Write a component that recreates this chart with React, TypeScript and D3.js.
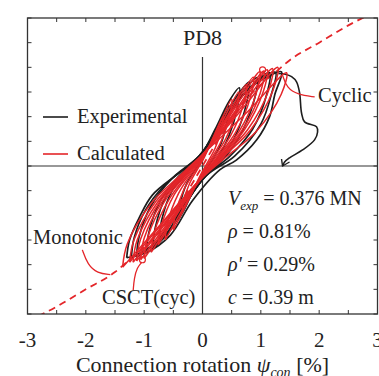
import React from "react";
import * as d3 from "d3";

type Pt = [number, number];

// monotonic CSCT prediction (dashed)
const monoRot = [-3.0, -2.5, -2.0, -1.5, -1.25, -1.0, -0.75, -0.5, -0.25, 0, 0.25, 0.5, 0.75, 1.0, 1.25, 1.5, 2.0, 2.5, 3.0];
const monoV = [-0.63, -0.57, -0.5, -0.43, -0.38, -0.33, -0.27, -0.19, -0.1, 0, 0.1, 0.19, 0.27, 0.33, 0.38, 0.43, 0.5, 0.57, 0.63];

// experimental hysteresis loops [rotation %, V MN]
const expLoops: Pt[][] = [
  [[-0.42, -0.22], [-0.39, -0.16], [-0.27, -0.07], [-0.12, -0.015], [0.02, 0.04], [0.18, 0.12], [0.34, 0.2], [0.45, 0.245], [0.42, 0.18], [0.3, 0.08], [0.14, 0.015], [-0.02, -0.04], [-0.18, -0.11], [-0.32, -0.18], [-0.42, -0.22]],
  [[-0.74, -0.3], [-0.7, -0.22], [-0.52, -0.1], [-0.28, -0.03], [-0.03, 0.04], [0.22, 0.15], [0.45, 0.26], [0.63, 0.317], [0.6, 0.24], [0.45, 0.12], [0.25, 0.03], [0.03, -0.04], [-0.25, -0.14], [-0.52, -0.245], [-0.74, -0.3]],
  [[-0.85, -0.33], [-0.81, -0.25], [-0.62, -0.12], [-0.35, -0.04], [-0.04, 0.04], [0.26, 0.155], [0.55, 0.27], [0.8, 0.34], [0.76, 0.26], [0.58, 0.13], [0.33, 0.035], [0.04, -0.04], [-0.28, -0.15], [-0.58, -0.27], [-0.85, -0.33]],
  [[-0.96, -0.354], [-0.92, -0.27], [-0.72, -0.14], [-0.42, -0.045], [-0.05, 0.04], [0.3, 0.16], [0.65, 0.29], [0.94, 0.358], [0.9, 0.28], [0.68, 0.14], [0.4, 0.04], [0.05, -0.04], [-0.32, -0.16], [-0.66, -0.29], [-0.96, -0.354]],
  [[-1.13, -0.37], [-1.09, -0.29], [-0.88, -0.16], [-0.52, -0.05], [-0.06, 0.04], [0.33, 0.17], [0.78, 0.31], [1.15, 0.378], [1.1, 0.29], [0.86, 0.15], [0.47, 0.04], [0.06, -0.04], [-0.36, -0.17], [-0.8, -0.31], [-1.13, -0.37]],
  [[-1.22, -0.37], [-1.17, -0.29], [-0.98, -0.18], [-0.66, -0.08], [-0.06, 0.04], [0.34, 0.175], [0.8, 0.315], [1.25, 0.38], [1.18, 0.29], [1.0, 0.17], [0.55, 0.04], [0.06, -0.04], [-0.36, -0.17], [-0.82, -0.315], [-1.22, -0.37]],
  [[-1.3, -0.372], [-1.25, -0.3], [-1.08, -0.207], [-0.86, -0.118], [-0.45, -0.037], [-0.05, 0.037], [0.32, 0.18], [0.78, 0.31], [1.1, 0.36], [1.355, 0.382], [1.24, 0.29], [1.15, 0.2], [0.93, 0.106], [0.58, 0.024], [0.3, -0.015], [-0.17, -0.14], [-0.55, -0.28], [-0.95, -0.35], [-1.3, -0.372]],
];

// experimental post-peak branch (ends with arrow)
const expPostPeak: Pt[] = [[1.3, 0.375], [1.42, 0.372], [1.527, 0.362], [1.612, 0.341], [1.664, 0.297], [1.698, 0.215], [1.75, 0.179], [1.955, 0.159], [1.973, 0.138], [1.921, 0.106], [1.715, 0.065], [1.492, 0.033], [1.407, 0.016], [1.372, 0.0]];

// calculated hysteresis loops
const calcLoops: Pt[][] = [
  [[-0.35, -0.19], [-0.33, -0.146], [-0.22, -0.07], [-0.09, -0.015], [0.02, 0.03], [0.18, 0.114], [0.35, 0.2], [0.33, 0.154], [0.22, 0.074], [0.09, 0.016], [-0.02, -0.03], [-0.18, -0.108], [-0.35, -0.19]],
  [[-0.5, -0.26], [-0.47, -0.2], [-0.32, -0.096], [-0.13, -0.021], [0.03, 0.04], [0.26, 0.154], [0.5, 0.27], [0.47, 0.208], [0.32, 0.1], [0.13, 0.022], [-0.03, -0.04], [-0.26, -0.148], [-0.5, -0.26]],
  [[-0.64, -0.3], [-0.6, -0.231], [-0.41, -0.111], [-0.17, -0.024], [0.04, 0.045], [0.32, 0.171], [0.62, 0.3], [0.58, 0.231], [0.4, 0.111], [0.16, 0.024], [-0.04, -0.045], [-0.33, -0.171], [-0.64, -0.3]],
  [[-0.76, -0.32], [-0.71, -0.246], [-0.49, -0.118], [-0.2, -0.026], [0.04, 0.05], [0.39, 0.188], [0.75, 0.33], [0.705, 0.254], [0.48, 0.122], [0.195, 0.026], [-0.04, -0.05], [-0.4, -0.182], [-0.76, -0.32]],
  [[-0.88, -0.35], [-0.83, -0.27], [-0.56, -0.13], [-0.23, -0.028], [0.05, 0.055], [0.45, 0.205], [0.87, 0.36], [0.82, 0.277], [0.56, 0.133], [0.23, 0.029], [-0.05, -0.055], [-0.46, -0.2], [-0.88, -0.35]],
  [[-1.0, -0.375], [-0.94, -0.289], [-0.64, -0.139], [-0.26, -0.03], [0.05, 0.06], [0.51, 0.218], [0.98, 0.382], [0.92, 0.294], [0.63, 0.141], [0.25, 0.031], [-0.05, -0.06], [-0.52, -0.214], [-1.0, -0.375]],
  [[-1.06, -0.38], [-1.0, -0.293], [-0.68, -0.141], [-0.28, -0.03], [0.05, 0.06], [0.55, 0.219], [1.05, 0.385], [0.99, 0.296], [0.67, 0.142], [0.27, 0.031], [-0.05, -0.06], [-0.55, -0.217], [-1.06, -0.38]],
  [[-1.13, -0.385], [-1.06, -0.296], [-0.72, -0.142], [-0.29, -0.031], [0.06, 0.06], [0.58, 0.222], [1.11, 0.39], [1.04, 0.3], [0.71, 0.144], [0.29, 0.031], [-0.06, -0.06], [-0.59, -0.219], [-1.13, -0.385]],
  [[-1.19, -0.39], [-1.12, -0.3], [-0.76, -0.144], [-0.31, -0.031], [0.06, 0.06], [0.62, 0.225], [1.2, 0.395], [1.13, 0.304], [0.77, 0.146], [0.31, 0.032], [-0.06, -0.06], [-0.62, -0.222], [-1.19, -0.39]],
  [[-1.25, -0.39], [-1.175, -0.3], [-0.8, -0.144], [-0.325, -0.031], [0.06, 0.06], [0.67, 0.228], [1.29, 0.4], [1.21, 0.308], [0.83, 0.148], [0.335, 0.032], [-0.06, -0.06], [-0.65, -0.222], [-1.25, -0.39]],
  [[-1.37, -0.41], [-1.29, -0.316], [-0.88, -0.152], [-0.36, -0.033], [0.06, 0.06], [0.75, 0.215], [1.44, 0.378], [1.35, 0.291], [0.92, 0.14], [0.37, 0.03], [-0.06, -0.06], [-0.71, -0.234], [-1.37, -0.41]],
];

// CSCT cyclic failure points
const csctCyc: Pt[] = [[1.03, 0.39], [-1.03, -0.38]];

const xTickLabels = [-3, -2, -1, 0, 1, 2, 3];
const infoLines = ["= 0.376 MN", "= 0.81%", "= 0.29%", "= 0.39 m"];

// annotation leaders (data coords)
const cyclicLeader: Pt[] = [[1.376, 0.366], [1.444, 0.317], [1.632, 0.289], [1.923, 0.28]];
const monoLeader: Pt[] = [[-2.06, -0.34], [-1.97, -0.4], [-1.8, -0.435], [-1.58, -0.44]];
const csctLeader: Pt[] = [[-1.188, -0.504], [-1.171, -0.455], [-1.12, -0.411], [-1.04, -0.39]];

const W = 379;
const H = 376;
const RED = "#e4262a";
const BLACK = "#1e1e1e";
const FONT = "'Liberation Serif', 'Times New Roman', serif";

export default function App() {
  const x = d3.scaleLinear().domain([-3, 3]).range([27.5, 377.5]);
  const y = d3.scaleLinear().domain([-0.6, 0.6]).range([314, 18]);
  const [x0, x1] = x.range();
  const [yb, yt] = y.range();

  const loop = d3
    .line<Pt>()
    .x((d) => x(d[0]))
    .y((d) => y(d[1]))
    .curve(d3.curveCatmullRom.alpha(0.5));
  const smooth = d3
    .line<Pt>()
    .x((d) => x(d[0]))
    .y((d) => y(d[1]))
    .curve(d3.curveBasis);
  const mono: Pt[] = monoRot.map((r, i) => [r, monoV[i]]);
  const monoLine = d3
    .line<Pt>()
    .x((d) => x(d[0]))
    .y((d) => y(d[1]))
    .curve(d3.curveMonotoneX);

  const end = expPostPeak[expPostPeak.length - 1];
  const ex = x(end[0]);
  const ey = y(end[1]);

  const tick = 4;

  return (
    <svg width={W} height={H} style={{ position: "absolute", left: 0, top: 0, background: "#fff" }} fontFamily={FONT}>
      <defs>
        <clipPath id="plot">
          <rect x={x0} y={yt} width={x1 - x0} height={yb - yt} />
        </clipPath>
      </defs>

      {/* zero lines */}
      <line x1={x0} x2={x1} y1={y(0)} y2={y(0)} stroke="#333" strokeWidth={1.2} />
      <line x1={x(0)} x2={x(0)} y1={57} y2={yb} stroke="#333" strokeWidth={1.2} />

      {/* ticks */}
      {x.ticks(12).map((t) => (
        <g key={`xt${t}`} stroke="#333" strokeWidth={1}>
          <line x1={x(t)} x2={x(t)} y1={yb} y2={yb - tick} />
          <line x1={x(t)} x2={x(t)} y1={yt} y2={yt + tick} />
        </g>
      ))}
      {y.ticks(12).map((t) => (
        <g key={`yt${t}`} stroke="#333" strokeWidth={1}>
          <line x1={x0} x2={x0 + tick} y1={y(t)} y2={y(t)} />
          <line x1={x1} x2={x1 - tick} y1={y(t)} y2={y(t)} />
        </g>
      ))}

      <g clipPath="url(#plot)">
        {/* monotonic prediction */}
        <path d={monoLine(mono) || ""} fill="none" stroke={RED} strokeWidth={1.8} strokeDasharray="7,5" />

        {/* experimental */}
        {expLoops.map((l, i) => (
          <path key={`e${i}`} d={loop(l) || ""} fill="none" stroke={BLACK} strokeWidth={1.7} />
        ))}
        <path d={loop(expPostPeak) || ""} fill="none" stroke={BLACK} strokeWidth={1.6} />
        <path
          d={`M${ex - 1},${ey - 7}L${ex},${ey}L${ex + 7},${ey - 4}`}
          fill="none"
          stroke={BLACK}
          strokeWidth={1.4}
        />

        {/* calculated */}
        {calcLoops.map((l, i) => (
          <path key={`c${i}`} d={loop(l) || ""} fill="none" stroke={RED} strokeWidth={1.5} />
        ))}
        {csctCyc.map((d, i) => (
          <circle key={`f${i}`} cx={x(d[0])} cy={y(d[1])} r={3} fill="none" stroke={RED} strokeWidth={1.2} />
        ))}

        {/* leaders */}
        <path d={smooth(cyclicLeader) || ""} fill="none" stroke={RED} strokeWidth={1.3} />
        <path d={smooth(monoLeader) || ""} fill="none" stroke={RED} strokeWidth={1.3} />
        <path d={smooth(csctLeader) || ""} fill="none" stroke={RED} strokeWidth={1.3} />
      </g>

      {/* frame */}
      <rect x={x0} y={yt} width={x1 - x0} height={yb - yt} fill="none" stroke="#333" strokeWidth={1.3} />

      {/* title */}
      <text x={x(0)} y={45} textAnchor="middle" fontSize={22} fill="#222">PD8</text>

      {/* legend */}
      <line x1={43} x2={68} y1={117} y2={117} stroke={BLACK} strokeWidth={1.6} />
      <text x={77} y={123} fontSize={20.5} fill="#222">Experimental</text>
      <line x1={43} x2={68} y1={154} y2={154} stroke={RED} strokeWidth={1.6} />
      <text x={77} y={160} fontSize={20.5} fill="#222">Calculated</text>

      {/* annotations */}
      <text x={318} y={102} fontSize={20.5} fill="#222">Cyclic</text>
      <text x={33} y={244} fontSize={20.5} fill="#222">Monotonic</text>
      <text x={102} y={304} fontSize={20.5} fill="#222">CSCT(cyc)</text>

      {/* parameters */}
      <g fontSize={20} fill="#222">
        <text x={228} y={205}>
          <tspan fontStyle="italic">V</tspan>
          <tspan fontStyle="italic" fontSize={13} dy={5}>exp</tspan>
          <tspan dy={-5}> {infoLines[0]}</tspan>
        </text>
        <text x={228} y={238}>
          <tspan fontStyle="italic">ρ</tspan>
          <tspan> {infoLines[1]}</tspan>
        </text>
        <text x={228} y={271}>
          <tspan fontStyle="italic">ρ'</tspan>
          <tspan> {infoLines[2]}</tspan>
        </text>
        <text x={228} y={304}>
          <tspan fontStyle="italic">c</tspan>
          <tspan> {infoLines[3]}</tspan>
        </text>
      </g>

      {/* x tick labels */}
      {xTickLabels.map((t) => (
        <text key={`xl${t}`} x={x(t)} y={347} textAnchor="middle" fontSize={21} fill="#222">
          {t < 0 ? `-${Math.abs(t)}` : t}
        </text>
      ))}

      {/* x axis title */}
      <text x={x(0)} y={372} textAnchor="middle" fontSize={22} fill="#222">
        Connection rotation <tspan fontStyle="italic">ψ</tspan>
        <tspan fontStyle="italic" fontSize={14} dy={5}>con</tspan>
        <tspan dy={-5}> [%]</tspan>
      </text>
    </svg>
  );
}
